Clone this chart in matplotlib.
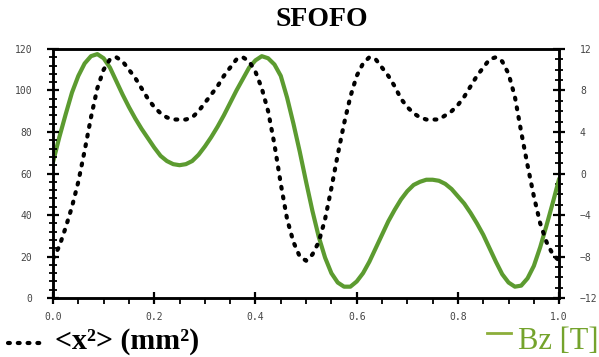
import numpy as np
import matplotlib
matplotlib.use("Agg")
import matplotlib.pyplot as plt
from matplotlib.ticker import MultipleLocator, FormatStrFormatter
from matplotlib.lines import Line2D

# position along the cell (normalised), sampled every 0.0125
s = np.linspace(0.0, 1.0, 81)

# beam size <x^2> in mm^2 (left scale)
x2 = [19, 25, 34, 44, 56, 71, 87, 101, 110, 115,
      116, 114, 110, 106, 101, 96, 92, 89, 87, 86,
      86, 86, 87, 90, 94, 98, 102, 107, 111, 115,
      116, 114, 109, 101, 90, 74, 55, 38, 27, 20,
      18, 21, 27, 38, 53, 69, 84, 97, 107, 113,
      116, 115, 111, 107, 102, 96, 92, 89, 87, 86,
      86, 86, 88, 90, 93, 97, 102, 107, 111, 115,
      116, 114, 108, 97, 80, 64, 49, 36, 27, 21,
      18]

# solenoid field Bz in T (right scale)
bz = [1.1, 3.5, 5.7, 7.8, 9.4, 10.6, 11.3, 11.5, 11.1, 10.2,
      8.9, 7.6, 6.4, 5.3, 4.3, 3.4, 2.5, 1.7, 1.2, 0.9,
      0.8, 0.9, 1.2, 1.8, 2.6, 3.5, 4.5, 5.6, 6.8, 8.0,
      9.1, 10.2, 10.9, 11.3, 11.1, 10.5, 9.4, 7.3, 4.8, 2.1,
      -0.8, -3.6, -6.1, -8.1, -9.6, -10.5, -10.9, -10.9, -10.4, -9.6,
      -8.5, -7.2, -5.9, -4.6, -3.5, -2.5, -1.7, -1.1, -0.8, -0.6,
      -0.6, -0.7, -1.0, -1.5, -2.2, -2.9, -3.8, -4.8, -5.9, -7.2,
      -8.5, -9.7, -10.5, -10.9, -10.8, -10.1, -8.9, -7.1, -5.0, -2.8,
      -0.5]

green = "#5c9b30"
tick_font = dict(family="DejaVu Sans Mono", size=7, color="#444444")

fig = plt.figure(figsize=(5.99, 3.57), dpi=100)
ax = fig.add_axes([0.0885, 0.165, 0.845, 0.698])
ax2 = ax.twinx()

ax2.plot(s, bz, color=green, lw=3.0, solid_capstyle="round", solid_joinstyle="round")
ax.plot(s, x2, color="black", lw=3.0, linestyle=(0, (0.45, 1.9)),
        dash_capstyle="round")

# keep the dotted curve above the field curve
ax.set_zorder(ax2.get_zorder() + 1)
ax.patch.set_visible(False)

ax.set_xlim(0, 1)
ax.set_ylim(0, 120)
ax2.set_ylim(-12, 12)

ax.xaxis.set_major_locator(MultipleLocator(0.2))
ax.xaxis.set_minor_locator(MultipleLocator(0.05))
ax.xaxis.set_major_formatter(FormatStrFormatter("%.1f"))
ax.yaxis.set_major_locator(MultipleLocator(20))
ax.yaxis.set_minor_locator(MultipleLocator(4))
ax2.yaxis.set_major_locator(MultipleLocator(4))
ax2.yaxis.set_minor_locator(MultipleLocator(1))

for a in (ax, ax2):
    for sp in a.spines.values():
        sp.set_linewidth(1.8)
ax.tick_params(axis="both", which="major", direction="inout", length=8, width=1.6, pad=11)
ax.tick_params(axis="y", which="minor", direction="inout", length=6, width=1.3)
ax.tick_params(axis="x", which="minor", direction="out", length=4, width=1.3)
ax.tick_params(axis="x", which="major", pad=6)
ax2.tick_params(axis="y", which="major", direction="inout", length=8, width=1.6, pad=11)
ax2.tick_params(axis="y", which="minor", direction="inout", length=6, width=1.3)

for lab in ax.get_xticklabels() + ax.get_yticklabels() + ax2.get_yticklabels():
    lab.set(**tick_font)

fig.text(0.538, 0.945, "SFOFO", ha="center", va="center",
         family="Liberation Serif", weight="bold", size=20)

# legend entries under the plot
fig.add_artist(Line2D([8 / 599, 40 / 599], [0.04, 0.04], transform=fig.transFigure,
                      color="black", lw=3.0, linestyle=(0, (0.45, 1.9)),
                      dash_capstyle="round"))
fig.text(55 / 599, 0.022, "<x²> (mm²)", ha="left", va="baseline",
         family="Liberation Serif", weight="bold", size=21.5)
fig.add_artist(Line2D([487 / 599, 511 / 599], [0.068, 0.068], transform=fig.transFigure,
                      color="#8cae3a", lw=2.0))
fig.text(518 / 599, 0.022, "Bz [T]", ha="left", va="baseline",
         family="Liberation Serif", size=22, color="#74a32c")

fig.savefig("out.png", dpi=100)
